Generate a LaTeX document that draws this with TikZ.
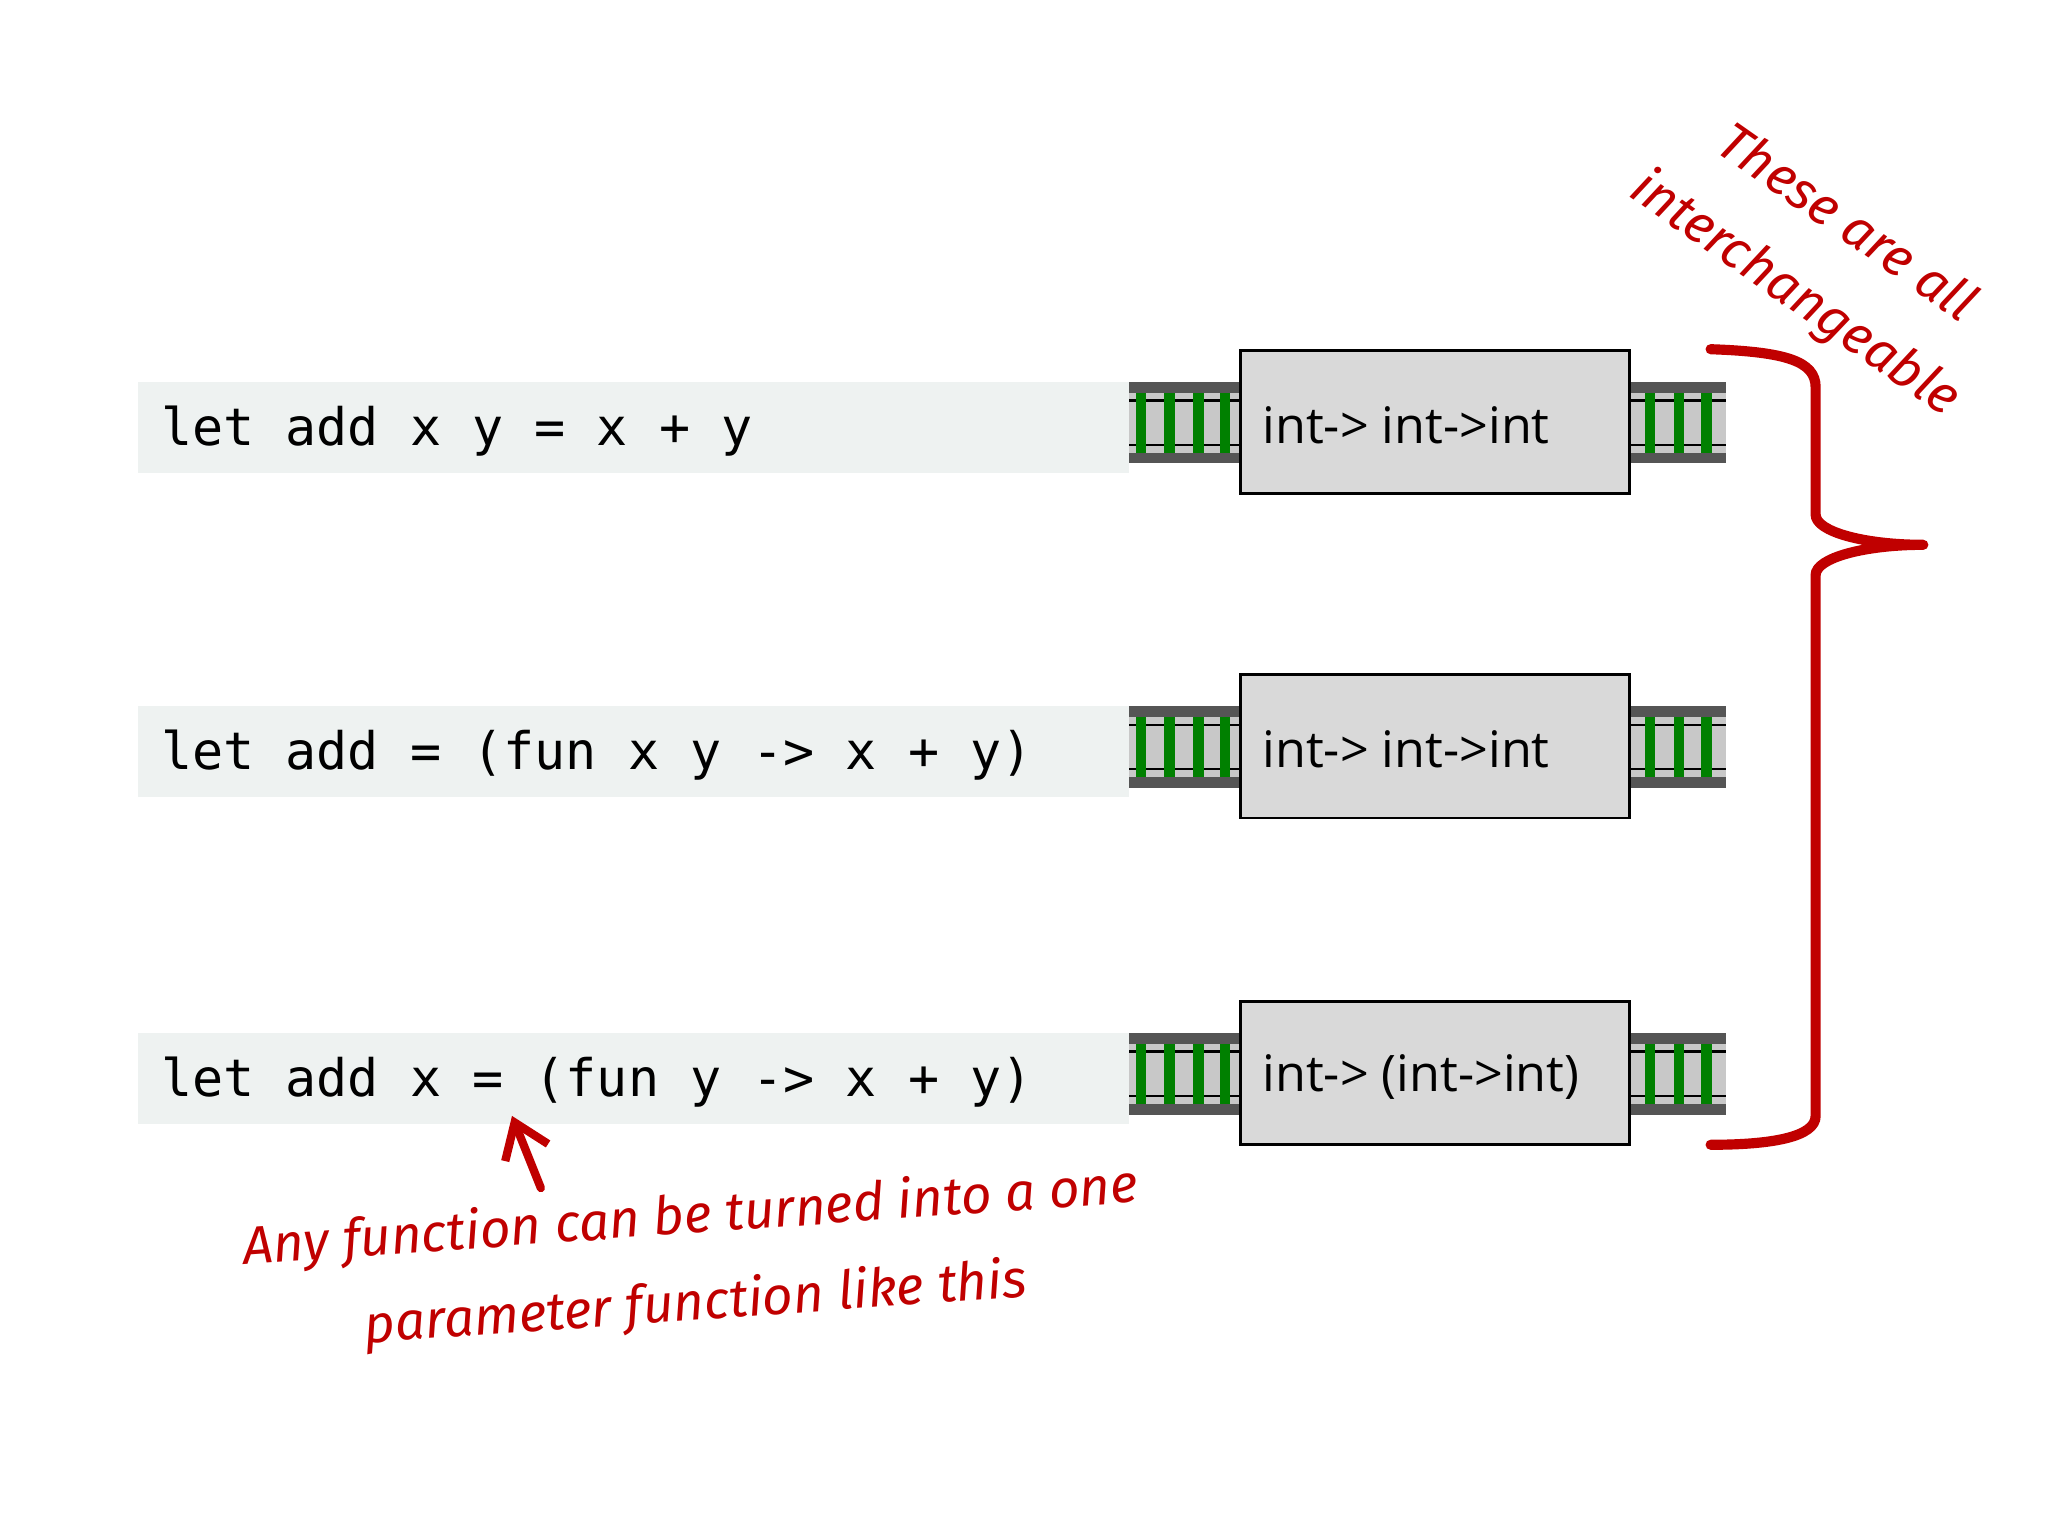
\documentclass[tikz,border=0pt]{standalone}
\usepackage{fontspec}
\usetikzlibrary{arrows.meta}
\setmainfont{Open Sans}
\newfontfamily\codefont{DejaVu Sans Mono}
\newfontfamily\handfont{Fira Sans}
\definecolor{codebg}{HTML}{EEF2F1}
\definecolor{boxbg}{HTML}{D9D9D9}
\definecolor{raildark}{HTML}{555555}
\definecolor{raillight}{HTML}{C8C8C8}
\definecolor{tie}{HTML}{008000}
\definecolor{hand}{HTML}{C00000}
\begin{document}
\begin{tikzpicture}[x=0.01cm,y=-0.01cm,
  codebar/.style={fill=codebg,draw=none},
  codetext/.style={anchor=west,font=\codefont\fontsize{11.2}{13}\selectfont,inner sep=0},
  typebox/.style={draw=black,line width=0.6pt,fill=boxbg},
  typetext/.style={anchor=west,font=\fontsize{10.9}{13}\selectfont,inner sep=0},
  handtext/.style={font=\handfont\itshape\fontsize{11.5}{13}\selectfont,text=hand,inner sep=0}]
\useasboundingbox (0,0) rectangle (1560,1170);
\newcommand\railseg[3]{% x1, x2, ycenter
  \fill[raildark] (#1,#3-31) rectangle (#2,#3+31);
  \fill[raillight] (#1,#3-23) rectangle (#2,#3+23);
  \draw[black,line width=0.5pt] (#1,#3-17) -- (#2,#3-17) (#1,#3+17) -- (#2,#3+17);}
\foreach \yc/\code/\typ [count=\i] in {322/{let add x y = x + y}/{int-> int->int},
    569/{let add = (fun x y -> x + y)}/{int-> int->int},
    818/{let add x = (fun y -> x + y)}/{int-> (int->int)}}{
  \fill[codebar] (105,\yc-31) rectangle (860,\yc+38);
  \node[codetext] (code\i) at (122,\yc+6) {\code};
  \railseg{860}{945}{\yc}
  \foreach \tx in {869,891,913,933} \fill[tie] (\tx-4,\yc-23) rectangle (\tx+4,\yc+23);
  \railseg{1241}{1315}{\yc}
  \foreach \tx in {1257,1279,1300} \fill[tie] (\tx-4,\yc-23) rectangle (\tx+4,\yc+23);
  \draw[typebox] (945,\yc-55) rectangle (1241,\yc+54);
  \node[typetext] (type\i) at (961,\yc+2) {\typ};
}
\draw[hand,line width=2.2pt,line cap=round]
  (1303,266) .. controls (1360,268) and (1383,275) .. (1383,295)
  -- (1383,392) .. controls (1383,405) and (1420,415) .. (1465,415)
  (1465,415) .. controls (1420,415) and (1383,425) .. (1383,438)
  -- (1383,850) .. controls (1383,866) and (1350,872) .. (1303,872);
\node[handtext,rotate=-35] (t1) at (1408,168) {These are all};
\node[handtext,rotate=-35] (t2) at (1367,224) {interchangeable};
\node[handtext,rotate=4] (a1) at (526,928) {Any function can be turned into a one};
\node[handtext,rotate=4] (a2) at (530,994) {parameter function like this};
\coordinate (tip) at (390,850);
\draw[hand,line width=1.8pt,line cap=round,-{Straight Barb[length=7pt,width=10pt]}] (412,905) -- (tip);
\end{tikzpicture}
\end{document}
